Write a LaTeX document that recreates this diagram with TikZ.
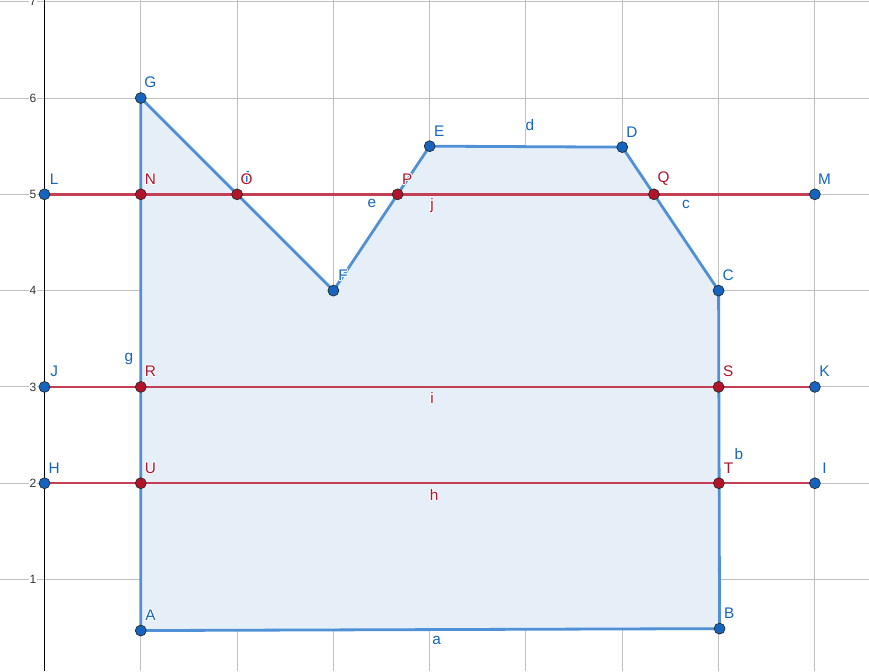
\documentclass[tikz,border=0pt]{standalone}
\usepackage{fontspec}
\setmainfont{Liberation Sans}
\definecolor{pblue}{RGB}{21,101,192}
\definecolor{eblue}{RGB}{80,144,214}
\definecolor{fblue}{RGB}{230,238,248}
\definecolor{pred}{RGB}{178,20,42}
\definecolor{lred}{RGB}{196,62,84}
\definecolor{gridc}{RGB}{192,192,192}
\tikzset{
  gridline/.style={draw=gridc, line width=0.75pt},
  axisline/.style={draw=black, line width=1pt},
  ticklbl/.style={anchor=east, fill=white, inner sep=0.6pt, text=black!80, font=\fontsize{9pt}{10pt}\selectfont},
  polyedge/.style={draw=eblue, line width=2.1pt, line join=round, fill=fblue},
  redline/.style={draw=lred, line width=1.9pt},
  bpt/.style={circle, fill=pblue, draw=black!85, line width=0.5pt, minimum size=8.2pt, inner sep=0pt},
  rpt/.style={circle, fill=pred, draw=black!85, line width=0.5pt, minimum size=8.2pt, inner sep=0pt},
  lblfont/.style={inner sep=0pt, font=\fontsize{11.5pt}{13pt}\selectfont},
  btxt/.style={lblfont, text=pblue},
  rtxt/.style={lblfont, text=pred},
  halotxt/.style={lblfont, text=white},
}
% label with a white halo: node name, coordinate name, style, text
\newcommand{\hlbl}[4]{%
  \foreach \ang in {0,45,...,315}
    \node[halotxt] at ([shift={(\ang:0.8pt)}]#2) {#4};
  \node[#3] (#1) at (#2) {#4};
}
\begin{document}
\begin{tikzpicture}[x=72.225pt,y=72.225pt]
\useasboundingbox (-0.462,0.050) rectangle (8.562,7.018);
% grid
\foreach \i in {1,...,8} \draw[gridline] (\i,0.050) -- (\i,7.018);
\foreach \j in {1,...,7} \draw[gridline] (-0.462,\j) -- (8.562,\j);
\draw[axisline] (0,0.050) -- (0,7.018);
\foreach \j in {1,...,7} \node[ticklbl] (t\j) at (-0.075,\j) {\j};
% points
\coordinate (A) at (1,0.47);
\coordinate (B) at (7.01,0.49);
\coordinate (C) at (7,4);
\coordinate (D) at (6,5.49);
\coordinate (E) at (4,5.5);
\coordinate (F) at (3,4);
\coordinate (G) at (1,6);
\coordinate (L) at (0,5);
\coordinate (M) at (8,5);
\coordinate (J) at (0,3);
\coordinate (K) at (8,3);
\coordinate (H) at (0,2);
\coordinate (I) at (8,2);
\coordinate (N) at (1,5);
\coordinate (O) at (2,5);
\coordinate (P) at (3.667,5);
\coordinate (Q) at (6.329,5);
\coordinate (R) at (1,3);
\coordinate (S) at (7,3);
\coordinate (T) at (7.003,2);
\coordinate (U) at (1,2);
% polygon
\draw[polyedge] (A) -- (B) -- (C) -- (D) -- (E) -- (F) -- (G) -- cycle;
% red lines
\draw[redline] (L) -- (M);
\draw[redline] (J) -- (K);
\draw[redline] (H) -- (I);
% point markers
\foreach \p in {A,B,C,D,E,F,G,L,M,J,K,H,I} \node[bpt] (p\p) at (\p) {};
\foreach \p in {N,O,P,Q,R,S,T,U} \node[rpt] (p\p) at (\p) {};
% segment label f, mostly hidden under the label of O
\node[btxt] (sf) at ([shift={(7.4pt,12.8pt)}]O) {f};
% label positions
\foreach \p in {A,B,C,D,E,F,G,L,M,J,K,H,I,N,O,P,Q,R,S,T,U}
  \coordinate (c\p) at ([shift={(7.2pt,11.5pt)}]\p);
\coordinate (ca) at (4.073,0.366);
\coordinate (cb) at (7.212,2.307);
\coordinate (cc) at (6.661,4.893);
\coordinate (cd) at (5.041,5.724);
\coordinate (ce) at (3.401,4.903);
\coordinate (cg) at (0.877,3.294);
\coordinate (ch) at (4.045,1.882);
\coordinate (ci) at (4.024,2.889);
\coordinate (cj) at (4.024,4.883);
% point labels
\foreach \p in {A,B,C,D,E,F,G,L,M,J,K,H,I} {\hlbl{l\p}{c\p}{btxt}{\p}}
\foreach \p in {N,O,P,Q,R,S,T,U} {\hlbl{l\p}{c\p}{rtxt}{\p}}
% segment labels
\foreach \s in {a,b,c,d,e,g} {\hlbl{s\s}{c\s}{btxt}{\s}}
\foreach \s in {h,i,j} {\hlbl{s\s}{c\s}{rtxt}{\s}}
\end{tikzpicture}
\end{document}
